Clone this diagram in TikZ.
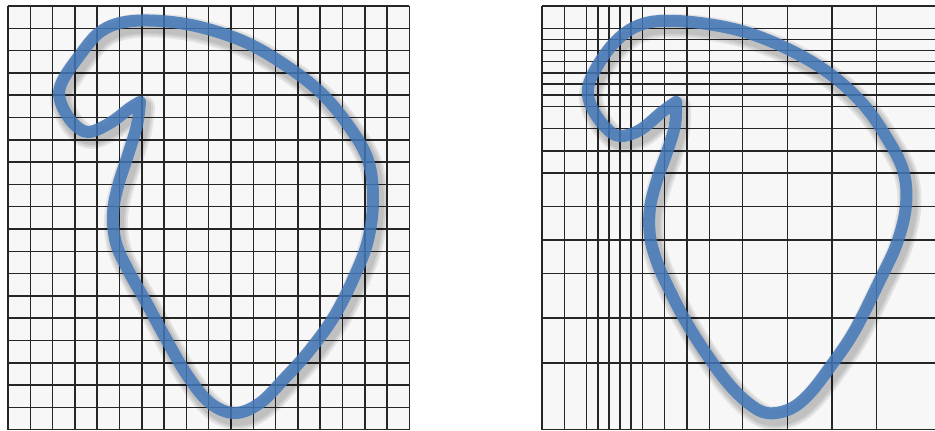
\documentclass[tikz,border=0pt]{standalone}
\usepackage{tikz}
\definecolor{curveblue}{RGB}{68,120,186}
\newcommand{\cw}{22.3}
\tikzset{
  gridline/.style={draw=black!85,line width=0.75pt},
  cellfill/.style={fill=black!3},
  loopcurve/.style={draw=curveblue,line width=6pt,opacity=0.85,line cap=round,line join=round},
  loopshadow/.style={draw=black,line width=#1,opacity=0.08,line cap=round,line join=round,shift={(3,5)}},
  leftloop/.style={insert path={plot[smooth,tension=0.6] coordinates {
    (140,102) (137,125) (128,155) (118,186) (113,214) (116,243) (128,270)
    (146,302) (165,337) (187,375) (210,403) (235,413) (260,403) (285,378)
    (310,350) (335,315) (355,275) (368,240) (373,200) (368,160) (348,125)
    (320,92) (285,65) (245,42) (200,27) (160,21) (125,22) (100,32) (80,55)
    (62,82) (60,100) (72,122) (88,132) (110,123) (130,108) (140,102)}}},
  rightloop/.style={insert path={plot[smooth,tension=0.6] coordinates {
    (676,102) (675,125) (667,152) (657,180) (650,208) (650,236) (657,262)
    (669,289) (685,320) (705,352) (727,382) (748,403) (767,413) (790,409)
    (810,393) (833,363) (855,330) (880,280) (897,243) (906,205) (903,170)
    (885,135) (862,103) (830,74) (790,50) (745,32) (700,23) (660,21)
    (635,27) (615,42) (598,65) (588,88) (592,108) (606,128) (620,136)
    (640,130) (662,112) (676,102)}}}
}

\begin{document}
\begin{tikzpicture}[x=0.5pt,y=-0.5pt]
  \useasboundingbox (0,0) rectangle (935,431);

  % uniform grid
  \fill[cellfill] (8,6) rectangle ({8+18*\cw},{6+19*\cw});
  \foreach \i in {0,...,18}
    \draw[gridline] ({8+\i*\cw},6) -- ({8+\i*\cw},{6+19*\cw});
  \foreach \j in {0,...,19}
    \draw[gridline] (8,{6+\j*\cw}) -- ({8+18*\cw},{6+\j*\cw});

  % refined grid
  \fill[cellfill] (542,6) rectangle (935,{6+19*\cw});
  \foreach \i in {0,1,2,2.5,3,3.5,4,4.5,5.5,6.5,7.5,9,11,13,15}
    \draw[gridline] ({542+\i*\cw},6) -- ({542+\i*\cw},{6+19*\cw});
  \foreach \j in {0,1,1.5,2,2.5,3,3.5,4,4.5,5.5,6.5,7.5,9,10.5,12,14,16,19}
    \draw[gridline] (542,{6+\j*\cw}) -- (935,{6+\j*\cw});

  % curves with soft shadow
  \foreach \w in {12pt,10pt,8pt} {
    \draw[loopshadow=\w,leftloop];
    \draw[loopshadow=\w,rightloop];
  }
  \draw[loopcurve,leftloop];
  \draw[loopcurve,rightloop];
\end{tikzpicture}
\end{document}
